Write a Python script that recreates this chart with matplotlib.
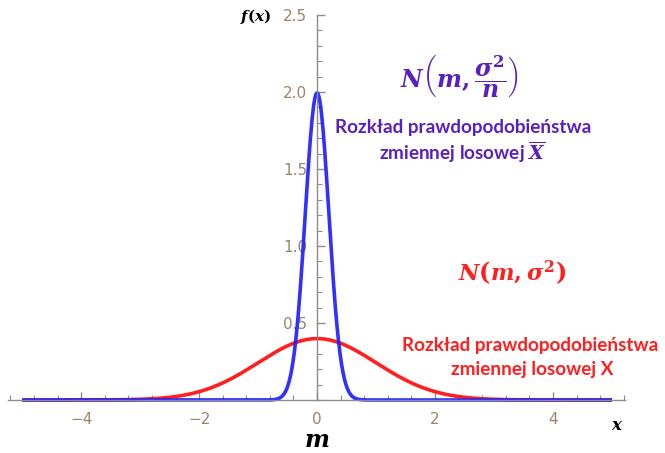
import numpy as np
import matplotlib.pyplot as plt
from matplotlib.ticker import MultipleLocator

# parametry rozkładu
m = 0.0
sigma = 1.0
n = 25

x_ticks = [-4, -2, 0, 2, 4]
x_labels = ['\u22124', '\u22122', '0', '2', '4']
y_ticks = [0.5, 1.0, 1.5, 2.0, 2.5]

plt.rcParams['mathtext.fontset'] = 'custom'
plt.rcParams['mathtext.it'] = 'DejaVu Serif:italic:bold'
plt.rcParams['mathtext.rm'] = 'DejaVu Serif:bold'
plt.rcParams['mathtext.bf'] = 'DejaVu Serif:bold'

blue = '#1f1fff'
red = '#ff1f1f'
purple = '#5a1fbf'
tick_col = '#9a8468'
axis_col = '#8c8c8c'


def pdf(x, mu, s):
    return np.exp(-(x - mu) ** 2 / (2 * s ** 2)) / (s * np.sqrt(2 * np.pi))


xs = np.linspace(-5, 5, 801)
y_x = pdf(xs, m, sigma)
y_mean = pdf(xs, m, sigma / np.sqrt(n))

fig = plt.figure(figsize=(6.65, 4.53), dpi=100)
ax = fig.add_axes([8 / 665, 51 / 453, 617 / 665, 390 / 453])

ax.plot(xs, y_x, color=red, lw=2.6, solid_capstyle='butt')
ax.plot(xs, y_mean, color=blue, lw=2.6, alpha=0.92, solid_capstyle='butt')

ax.set_xlim(-5.24, 5.22)
ax.set_ylim(-0.013, 2.52)

# osie przez początek układu (styl Mathematica)
for side in ['top', 'right']:
    ax.spines[side].set_visible(False)
ax.spines['left'].set_position(('data', 0))
ax.spines['bottom'].set_position(('data', 0))
ax.spines['left'].set_bounds(0, 2.5)
for side in ['left', 'bottom']:
    ax.spines[side].set_color(axis_col)
    ax.spines[side].set_linewidth(1.0)

ax.set_xticks(x_ticks)
ax.set_xticklabels(x_labels)
ax.set_yticks(y_ticks)
ax.set_yticklabels([f'{v:.1f}' for v in y_ticks])
ax.xaxis.set_minor_locator(MultipleLocator(0.4))
ax.yaxis.set_minor_locator(MultipleLocator(0.1))
ax.tick_params(which='both', direction='in', colors=axis_col,
               labelcolor=tick_col, labelsize=11)
ax.tick_params(axis='x', which='both', pad=9)
ax.tick_params(axis='y', which='both', pad=7)
ax.tick_params(which='major', length=6, width=1)
ax.tick_params(which='minor', length=3.5, width=0.8)

# etykiety osi
fig.text(256 / 665, 1 - 16 / 453, r'$f(x)$', fontsize=11, ha='center', va='center')
fig.text(617 / 665, 1 - 425 / 453, r'$x$', fontsize=12, ha='center', va='center')
fig.text(317 / 665, 1 - 440 / 453, r'$m$', fontsize=17, ha='center', va='center')

# opisy rozkładów
fig.text(459 / 665, 1 - 77 / 453, r'$N\left(m,\dfrac{\sigma^2}{n}\right)$',
         color=purple, fontsize=17, ha='center', va='center')
fig.text(463 / 665, 1 - 128 / 453, 'Rozkład prawdopodobieństwa', family='Lato',
         weight='bold', color=purple, fontsize=13.6, ha='center', va='center')
fig.text(462 / 665, 1 - 152 / 453, r'zmiennej losowej $\overline{X}$', family='Lato',
         weight='bold', color=purple, fontsize=13.6, ha='center', va='center')

fig.text(512 / 665, 1 - 273 / 453, r'$N\left(m,\sigma^2\right)$',
         color=red, fontsize=16, ha='center', va='center')
fig.text(530 / 665, 1 - 345 / 453, 'Rozkład prawdopodobieństwa', family='Lato',
         weight='bold', color=red, fontsize=13.6, ha='center', va='center')
fig.text(532 / 665, 1 - 369 / 453, 'zmiennej losowej X', family='Lato',
         weight='bold', color=red, fontsize=13.6, ha='center', va='center')

plt.savefig('out.png', dpi=100)
